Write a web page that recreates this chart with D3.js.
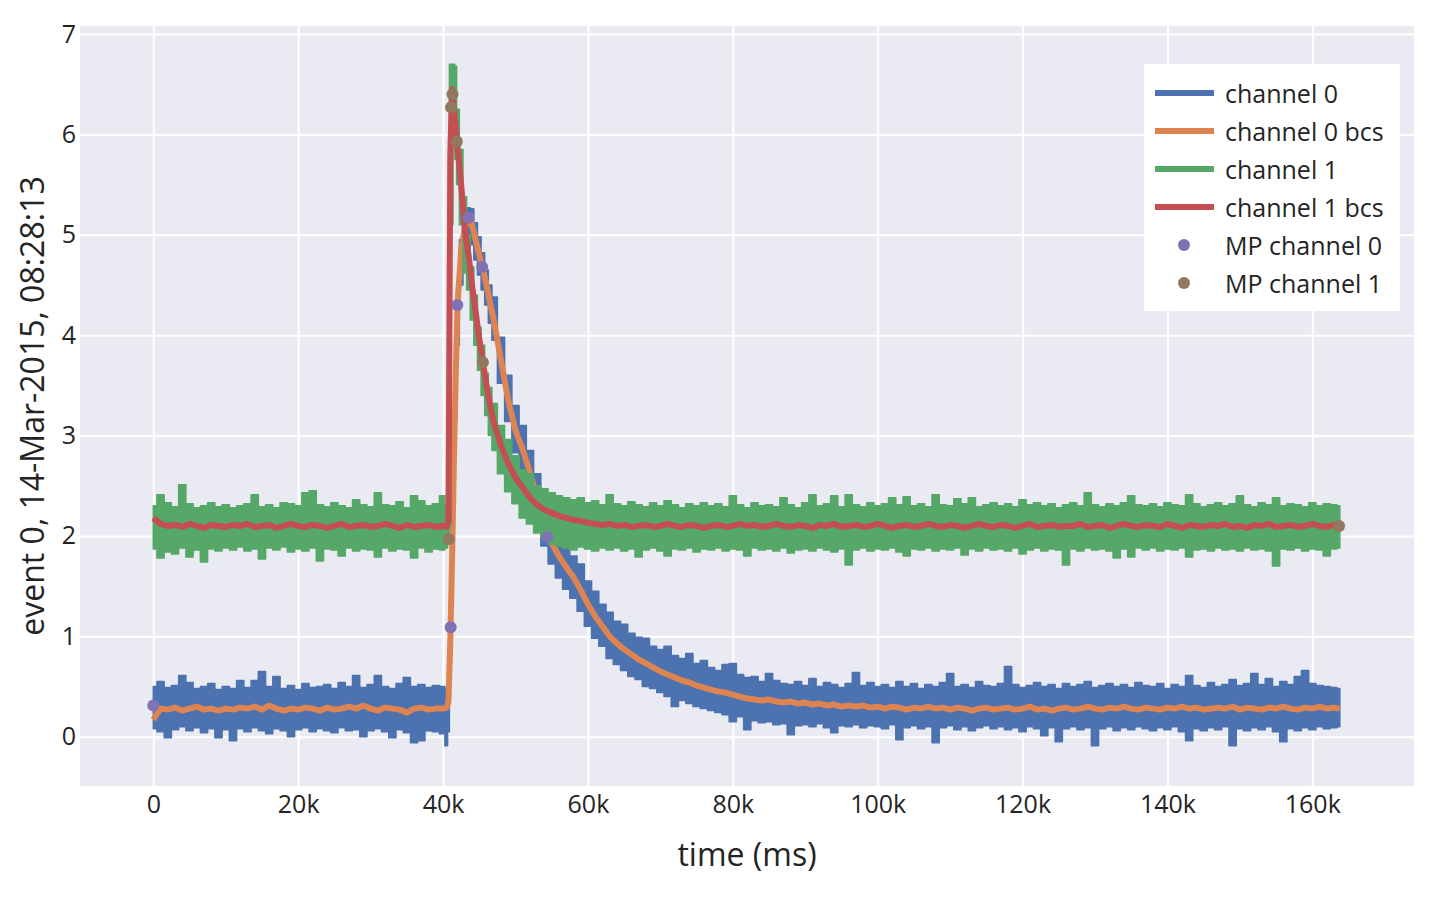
<!DOCTYPE html>
<html>
<head>
<meta charset="utf-8">
<script src="https://cdn.jsdelivr.net/npm/d3@7"></script>
<style>
body { margin: 0; background: #fff; }
text { font-family: "Open Sans", sans-serif; fill: rgb(36,36,36); }
</style>
</head>
<body>
<svg id="chart" width="1448" height="898"></svg>
<script>
// sample times, thousands of ms
var timeK = [
	0, 1, 2, 3, 4, 5, 6, 7, 8, 9,
	10, 11, 12, 13, 14, 15, 16, 17, 18, 19,
	20, 21, 22, 23, 24, 25, 26, 27, 28, 29,
	30, 31, 32, 33, 34, 35, 36, 37, 38, 39,
	40, 40.5, 40.75, 41, 41.25, 41.5, 41.75, 42, 42.5, 43,
	43.5, 44, 44.5, 45, 45.5, 46, 46.5,
	47, 48, 49, 50, 51, 52, 53, 54, 55, 56,
	57, 58, 59, 60, 61, 62, 63, 64, 65, 66,
	67, 68, 69, 70, 71, 72, 73, 74, 75, 76,
	77, 78, 79, 80, 81, 82, 83, 84, 85, 86,
	87, 88, 89, 90, 91, 92, 93, 94, 95, 96,
	97, 98, 99, 100, 101, 102, 103, 104, 105, 106,
	107, 108, 109, 110, 111, 112, 113, 114, 115, 116,
	117, 118, 119, 120, 121, 122, 123, 124, 125, 126,
	127, 128, 129, 130, 131, 132, 133, 134, 135, 136,
	137, 138, 139, 140, 141, 142, 143, 144, 145, 146,
	147, 148, 149, 150, 151, 152, 153, 154, 155, 156,
	157, 158, 159, 160, 161, 162, 163, 163.8
];

// channel 0 raw signal, upper and lower edge of the noise band
var ch0High = [
	0.50, 0.55, 0.49, 0.51, 0.61, 0.54, 0.48, 0.50, 0.53, 0.47,
	0.50, 0.48, 0.56, 0.49, 0.56, 0.65, 0.50, 0.60, 0.48, 0.51,
	0.47, 0.53, 0.49, 0.50, 0.52, 0.48, 0.54, 0.50, 0.61, 0.49,
	0.52, 0.61, 0.50, 0.48, 0.53, 0.59, 0.50, 0.52, 0.49, 0.51,
	0.50, 0.48, 0.47, 1.25, 2.30, 3.10, 3.85, 4.50, 4.95, 5.20,
	5.27, 5.26, 5.12, 4.98, 4.82, 4.65, 4.50,
	4.38, 3.98, 3.60, 3.30, 3.10, 2.85, 2.62, 2.33, 2.15, 2.02,
	1.92, 1.80, 1.72, 1.55, 1.45, 1.32, 1.24, 1.15, 1.12, 1.03,
	0.99, 0.98, 0.90, 0.87, 0.90, 0.81, 0.78, 0.83, 0.73, 0.76,
	0.69, 0.66, 0.72, 0.73, 0.62, 0.59, 0.60, 0.55, 0.63, 0.56,
	0.53, 0.52, 0.55, 0.51, 0.58, 0.50, 0.54, 0.52, 0.49, 0.53,
	0.64, 0.51, 0.54, 0.50, 0.52, 0.49, 0.55, 0.50, 0.53, 0.48,
	0.52, 0.50, 0.54, 0.63, 0.50, 0.52, 0.49, 0.55, 0.51, 0.50,
	0.53, 0.70, 0.52, 0.49, 0.51, 0.54, 0.50, 0.52, 0.48, 0.53,
	0.50, 0.52, 0.55, 0.49, 0.51, 0.53, 0.50, 0.52, 0.49, 0.54,
	0.51, 0.50, 0.53, 0.48, 0.52, 0.50, 0.61, 0.51, 0.49, 0.54,
	0.50, 0.52, 0.57, 0.51, 0.53, 0.63, 0.52, 0.58, 0.50, 0.55,
	0.52, 0.60, 0.66, 0.53, 0.51, 0.50, 0.49, 0.48
];
var ch0Low = [
	0.08, 0.05, -0.01, 0.07, 0.10, 0.06, 0.09, 0.04, 0.08, -0.01,
	0.07, -0.04, 0.08, 0.05, 0.09, 0.06, 0.03, 0.08, 0.06, 0.00,
	0.07, 0.09, 0.05, 0.08, 0.06, 0.04, 0.09, 0.06, 0.07, 0.00,
	0.06, 0.08, 0.05, -0.01, 0.07, 0.04, -0.06, -0.04, 0.06, 0.05,
	0.03, -0.09, 0.05, 0.55, 1.45, 2.35, 3.15, 3.90, 4.50, 4.80,
	4.95, 4.90, 4.75, 4.60, 4.45, 4.30, 4.12,
	3.95, 3.52, 3.14, 2.83, 2.64, 2.40, 2.15, 1.90, 1.72, 1.58,
	1.47, 1.38, 1.25, 1.10, 0.98, 0.90, 0.78, 0.72, 0.66, 0.60,
	0.57, 0.50, 0.48, 0.44, 0.40, 0.30, 0.36, 0.33, 0.30, 0.28,
	0.26, 0.24, 0.22, 0.15, 0.20, 0.07, 0.16, 0.14, 0.15, 0.12,
	0.13, 0.02, 0.11, 0.12, 0.10, 0.13, 0.09, 0.04, 0.11, 0.10,
	0.12, 0.09, 0.11, 0.10, 0.08, 0.12, -0.03, 0.09, 0.11, 0.08,
	0.10, -0.06, 0.09, 0.11, 0.07, 0.10, 0.06, 0.09, 0.11, 0.08,
	0.10, 0.07, 0.09, 0.05, 0.10, 0.08, 0.01, 0.09, -0.05, 0.08,
	0.10, 0.07, 0.09, -0.09, 0.08, 0.10, 0.06, 0.09, 0.07, 0.10,
	0.08, 0.06, 0.09, 0.07, 0.10, 0.05, -0.04, 0.08, 0.06, 0.09,
	0.07, 0.10, -0.09, 0.08, 0.06, 0.09, 0.07, 0.10, 0.05, -0.05,
	0.08, 0.06, 0.09, 0.07, 0.10, 0.08, 0.09, 0.10
];
// channel 0 baseline corrected
var ch0Bcs = [
	0.17, 0.28, 0.27, 0.29, 0.26, 0.28, 0.30, 0.27, 0.28, 0.26,
	0.28, 0.27, 0.29, 0.28, 0.30, 0.27, 0.31, 0.28, 0.26, 0.28,
	0.27, 0.29, 0.28, 0.26, 0.29, 0.27, 0.28, 0.30, 0.28, 0.31,
	0.28, 0.26, 0.29, 0.28, 0.27, 0.24, 0.28, 0.29, 0.27, 0.28,
	0.28, 0.29, 0.35, 0.95, 1.80, 2.75, 3.60, 4.30, 4.85, 5.07,
	5.17, 5.10, 4.95, 4.80, 4.66, 4.50, 4.32,
	4.15, 3.75, 3.35, 3.05, 2.86, 2.63, 2.38, 2.10, 1.93, 1.80,
	1.69, 1.59, 1.46, 1.32, 1.20, 1.10, 1.00, 0.93, 0.87, 0.82,
	0.77, 0.73, 0.69, 0.65, 0.62, 0.59, 0.56, 0.54, 0.51, 0.49,
	0.47, 0.45, 0.44, 0.42, 0.40, 0.38, 0.37, 0.36, 0.37, 0.35,
	0.34, 0.35, 0.33, 0.34, 0.32, 0.33, 0.31, 0.32, 0.30, 0.31,
	0.30, 0.31, 0.29, 0.30, 0.28, 0.30, 0.29, 0.27, 0.29, 0.28,
	0.30, 0.28, 0.29, 0.27, 0.29, 0.28, 0.26, 0.28, 0.29, 0.27,
	0.28, 0.29, 0.27, 0.28, 0.30, 0.27, 0.28, 0.26, 0.28, 0.29,
	0.27, 0.28, 0.30, 0.28, 0.27, 0.29, 0.28, 0.30, 0.28, 0.27,
	0.29, 0.28, 0.27, 0.29, 0.28, 0.30, 0.28, 0.29, 0.27, 0.28,
	0.29, 0.28, 0.30, 0.27, 0.29, 0.28, 0.27, 0.29, 0.28, 0.30,
	0.28, 0.27, 0.29, 0.28, 0.30, 0.28, 0.29, 0.28
];

// channel 1 raw signal band
var ch1High = [
	2.30, 2.41, 2.33, 2.29, 2.51, 2.32, 2.28, 2.30, 2.33, 2.29,
	2.31, 2.28, 2.30, 2.32, 2.41, 2.29, 2.31, 2.28, 2.33, 2.32,
	2.30, 2.43, 2.45, 2.31, 2.29, 2.33, 2.30, 2.28, 2.36, 2.31,
	2.29, 2.43, 2.31, 2.30, 2.34, 2.28, 2.40, 2.35, 2.30, 2.32,
	2.40, 2.32, 2.38, 6.70, 6.70, 6.70, 6.68, 6.25, 5.85, 5.38,
	5.00, 4.68, 4.40, 4.08, 3.90, 3.62, 3.48,
	3.32, 3.10, 2.96, 2.80, 2.66, 2.62, 2.50, 2.47, 2.43, 2.40,
	2.38, 2.36, 2.38, 2.33, 2.35, 2.31, 2.41, 2.32, 2.30, 2.34,
	2.31, 2.29, 2.33, 2.30, 2.35, 2.31, 2.28, 2.32, 2.30, 2.33,
	2.30, 2.32, 2.29, 2.40, 2.31, 2.28, 2.33, 2.30, 2.31, 2.29,
	2.38, 2.31, 2.28, 2.33, 2.41, 2.30, 2.32, 2.40, 2.29, 2.41,
	2.31, 2.29, 2.33, 2.30, 2.32, 2.38, 2.31, 2.39, 2.30, 2.32,
	2.29, 2.41, 2.31, 2.30, 2.37, 2.32, 2.38, 2.29, 2.31, 2.33,
	2.30, 2.32, 2.29, 2.36, 2.31, 2.33, 2.30, 2.32, 2.28, 2.31,
	2.33, 2.30, 2.43, 2.31, 2.29, 2.32, 2.30, 2.33, 2.40, 2.31,
	2.30, 2.32, 2.29, 2.33, 2.31, 2.30, 2.41, 2.32, 2.29, 2.31,
	2.33, 2.30, 2.32, 2.40, 2.31, 2.29, 2.33, 2.31, 2.38, 2.30,
	2.32, 2.31, 2.29, 2.33, 2.30, 2.32, 2.31, 2.30
];
var ch1Low = [
	1.87, 1.78, 1.84, 1.82, 1.88, 1.79, 1.86, 1.74, 1.87, 1.85,
	1.88, 1.86, 1.89, 1.85, 1.87, 1.77, 1.88, 1.86, 1.89, 1.84,
	1.87, 1.85, 1.88, 1.75, 1.87, 1.86, 1.80, 1.88, 1.85, 1.87,
	1.86, 1.79, 1.88, 1.85, 1.87, 1.86, 1.78, 1.88, 1.84, 1.87,
	1.86, 1.88, 1.93, 2.10, 5.10, 5.90, 5.75, 5.50, 5.10, 4.62,
	4.45, 4.15, 3.90, 3.65, 3.40, 3.20, 3.00,
	2.85, 2.62, 2.44, 2.32, 2.18, 2.12, 2.03, 1.98, 1.92, 1.90,
	1.88, 1.86, 1.89, 1.87, 1.85, 1.88, 1.86, 1.88, 1.85, 1.87,
	1.79, 1.86, 1.88, 1.85, 1.80, 1.87, 1.86, 1.88, 1.84, 1.87,
	1.86, 1.88, 1.85, 1.87, 1.86, 1.80, 1.88, 1.86, 1.87, 1.85,
	1.88, 1.83, 1.86, 1.87, 1.85, 1.88, 1.86, 1.84, 1.87, 1.71,
	1.86, 1.88, 1.85, 1.87, 1.86, 1.88, 1.84, 1.80, 1.87, 1.86,
	1.88, 1.85, 1.87, 1.86, 1.88, 1.81, 1.87, 1.85, 1.88, 1.86,
	1.87, 1.85, 1.88, 1.82, 1.86, 1.88, 1.85, 1.87, 1.86, 1.71,
	1.87, 1.85, 1.88, 1.86, 1.87, 1.85, 1.78, 1.87, 1.79, 1.88,
	1.86, 1.88, 1.85, 1.87, 1.86, 1.88, 1.79, 1.86, 1.87, 1.85,
	1.88, 1.86, 1.87, 1.85, 1.88, 1.86, 1.87, 1.85, 1.70, 1.87,
	1.86, 1.88, 1.85, 1.87, 1.86, 1.80, 1.87, 1.88
];
var ch1Bcs = [
	2.18, 2.12, 2.10, 2.11, 2.09, 2.12, 2.10, 2.08, 2.11, 2.10,
	2.09, 2.11, 2.10, 2.12, 2.09, 2.10, 2.11, 2.08, 2.10, 2.12,
	2.10, 2.09, 2.11, 2.10, 2.08, 2.10, 2.12, 2.09, 2.10, 2.11,
	2.09, 2.10, 2.12, 2.10, 2.08, 2.11, 2.09, 2.10, 2.11, 2.09,
	2.10, 2.09, 2.16, 5.80, 6.45, 6.25, 6.05, 5.88, 5.50, 5.05,
	4.81, 4.50, 4.23, 3.97, 3.73, 3.50, 3.30,
	3.13, 2.90, 2.72, 2.58, 2.48, 2.38, 2.31, 2.26, 2.23, 2.20,
	2.18, 2.16, 2.15, 2.13, 2.12, 2.11, 2.12, 2.10, 2.11, 2.09,
	2.10, 2.11, 2.09, 2.10, 2.12, 2.10, 2.09, 2.11, 2.10, 2.08,
	2.10, 2.11, 2.09, 2.10, 2.12, 2.10, 2.11, 2.09, 2.10, 2.12,
	2.10, 2.09, 2.11, 2.10, 2.08, 2.11, 2.10, 2.12, 2.09, 2.10,
	2.11, 2.09, 2.10, 2.12, 2.10, 2.08, 2.10, 2.11, 2.09, 2.10,
	2.12, 2.10, 2.09, 2.11, 2.10, 2.08, 2.10, 2.12, 2.10, 2.09,
	2.11, 2.10, 2.08, 2.10, 2.12, 2.09, 2.10, 2.11, 2.09, 2.10,
	2.10, 2.12, 2.09, 2.10, 2.11, 2.08, 2.10, 2.12, 2.10, 2.09,
	2.11, 2.10, 2.09, 2.12, 2.10, 2.08, 2.11, 2.10, 2.09, 2.11,
	2.10, 2.12, 2.09, 2.10, 2.08, 2.11, 2.10, 2.12, 2.09, 2.10,
	2.11, 2.09, 2.10, 2.12, 2.10, 2.09, 2.11, 2.10
];

// MP points
var mp0Time = [0, 41.05, 41.97, 43.5, 45.4, 54.4];
var mp0Value = [0.31, 1.09, 4.30, 5.17, 4.68, 1.99];
var mp1Time = [40.8, 41.1, 41.3, 41.9, 45.5, 163.7];
var mp1Value = [1.97, 6.27, 6.40, 5.93, 3.73, 2.10];

var xTicks = [0, 20, 40, 60, 80, 100, 120, 140, 160];
var yTicks = [0, 1, 2, 3, 4, 5, 6, 7];

var seriesNames = ["channel 0", "channel 0 bcs", "channel 1", "channel 1 bcs", "MP channel 0", "MP channel 1"];
var seriesColors = ["rgb(76,114,176)", "rgb(221,132,82)", "rgb(85,168,104)", "rgb(196,78,82)", "rgb(129,114,179)", "rgb(147,120,96)"];

var plotLeft = 80, plotTop = 26, plotRight = 1414, plotBottom = 786;

var x = d3.scaleLinear().domain([-10.12, 174.04]).range([plotLeft, plotRight]);
var y = d3.scaleLinear().domain([-0.491, 7.08]).range([plotBottom, plotTop]);

var svg = d3.select("#chart");

svg.append("rect")
	.attr("x", plotLeft).attr("y", plotTop)
	.attr("width", plotRight - plotLeft).attr("height", plotBottom - plotTop)
	.attr("fill", "rgb(234,234,242)");

var xAxis = svg.append("g")
	.attr("transform", "translate(0," + plotBottom + ")")
	.call(d3.axisBottom(x).tickValues(xTicks)
		.tickSize(-(plotBottom - plotTop)).tickPadding(9)
		.tickFormat(function (d) { return d === 0 ? "0" : d + "k"; }));

var yAxis = svg.append("g")
	.attr("transform", "translate(" + plotLeft + ",0)")
	.call(d3.axisLeft(y).tickValues(yTicks)
		.tickSize(-(plotRight - plotLeft)).tickPadding(4));

svg.selectAll(".domain").remove();
svg.selectAll(".tick line").attr("stroke", "#fff").attr("stroke-width", 2);
svg.selectAll(".tick text").attr("font-size", 25).attr("fill", "rgb(36,36,36)")
	.style("font-family", "'Open Sans', sans-serif");

svg.append("clipPath").attr("id", "plotclip")
	.append("rect")
	.attr("x", plotLeft).attr("y", plotTop)
	.attr("width", plotRight - plotLeft).attr("height", plotBottom - plotTop);

var plot = svg.append("g").attr("clip-path", "url(#plotclip)");

function bandArea(high, low) {
	return d3.area()
		.x(function (d, i) { return x(timeK[i]); })
		.y0(function (d, i) { return y(low[i]); })
		.y1(function (d, i) { return y(high[i]); })
		.curve(d3.curveStep)(timeK);
}

function smoothLine(values) {
	return d3.line()
		.x(function (d, i) { return x(timeK[i]); })
		.y(function (d, i) { return y(values[i]); })(timeK);
}

//channel 0 raw, then its bcs line, then channel 1 on top
plot.append("path")
	.attr("d", bandArea(ch0High, ch0Low))
	.attr("fill", seriesColors[0])
	.attr("stroke", seriesColors[0])
	.attr("stroke-width", 1.5)
	.attr("stroke-linejoin", "round");

plot.append("path")
	.attr("d", smoothLine(ch0Bcs))
	.attr("fill", "none")
	.attr("stroke", seriesColors[1])
	.attr("stroke-width", 6)
	.attr("stroke-linejoin", "round");

plot.append("path")
	.attr("d", bandArea(ch1High, ch1Low))
	.attr("fill", seriesColors[2])
	.attr("stroke", seriesColors[2])
	.attr("stroke-width", 1.5)
	.attr("stroke-linejoin", "round");

plot.append("path")
	.attr("d", smoothLine(ch1Bcs))
	.attr("fill", "none")
	.attr("stroke", seriesColors[3])
	.attr("stroke-width", 6)
	.attr("stroke-linejoin", "round");

plot.append("g").selectAll("circle")
	.data(mp0Time)
	.enter().append("circle")
	.attr("cx", function (d) { return x(d); })
	.attr("cy", function (d, i) { return y(mp0Value[i]); })
	.attr("r", 6)
	.attr("fill", seriesColors[4]);

plot.append("g").selectAll("circle")
	.data(mp1Time)
	.enter().append("circle")
	.attr("cx", function (d) { return x(d); })
	.attr("cy", function (d, i) { return y(mp1Value[i]); })
	.attr("r", 6)
	.attr("fill", seriesColors[5]);

// axis titles
svg.append("text")
	.attr("x", (plotLeft + plotRight) / 2)
	.attr("y", 866)
	.attr("text-anchor", "middle")
	.attr("font-size", 32)
	.text("time (ms)");

svg.append("text")
	.attr("transform", "translate(44," + ((plotTop + plotBottom) / 2) + ") rotate(-90)")
	.attr("text-anchor", "middle")
	.attr("font-size", 32)
	.text("event 0, 14-Mar-2015, 08:28:13");

// legend
var legend = svg.append("g").attr("transform", "translate(1144,64)");

legend.append("rect")
	.attr("width", 256).attr("height", 247)
	.attr("fill", "#fff");

var legendItem = legend.selectAll(".legend-item")
	.data(seriesNames)
	.enter().append("g")
	.attr("class", "legend-item")
	.attr("transform", function (d, i) { return "translate(0," + (29 + i * 38) + ")"; });

legendItem.filter(function (d, i) { return i < 4; })
	.append("line")
	.attr("x1", 11).attr("x2", 70)
	.attr("stroke", function (d, i) { return seriesColors[i]; })
	.attr("stroke-width", 6);

legendItem.filter(function (d, i) { return i >= 4; })
	.append("circle")
	.attr("cx", 40).attr("r", 6)
	.attr("fill", function (d, i) { return seriesColors[i + 4]; });

legendItem.append("text")
	.attr("x", 81)
	.attr("y", 10)
	.attr("font-size", 25)
	.text(function (d) { return d; });
</script>
</body>
</html>
